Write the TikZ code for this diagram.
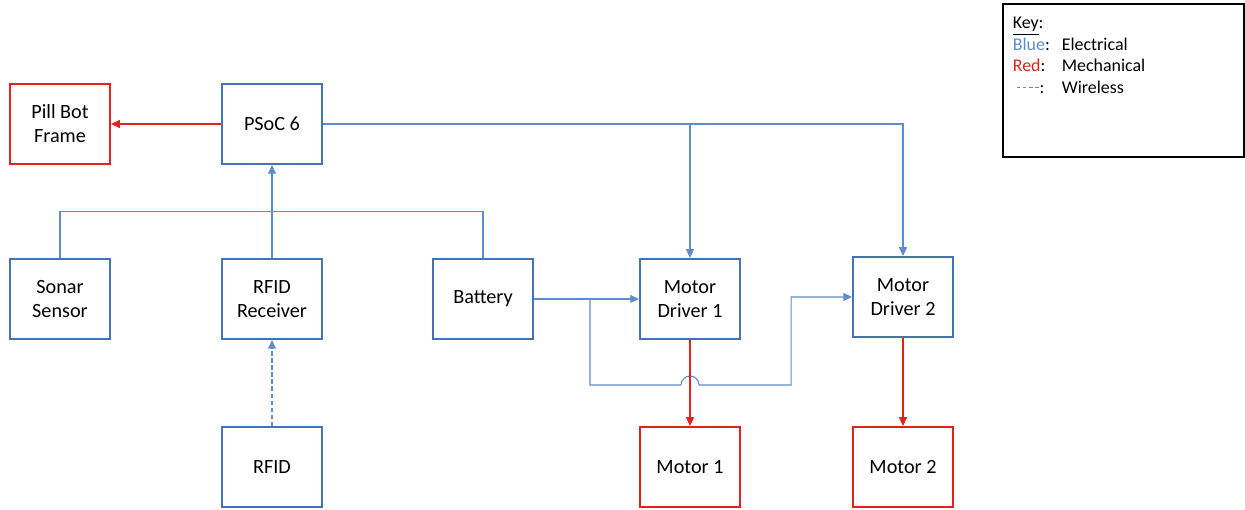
\documentclass[tikz,border=0pt]{standalone}
\usepackage{fontspec}
\setmainfont{Carlito}
\usepackage{xcolor}
\usepackage{tikz}
\usetikzlibrary{positioning, arrows.meta, calc}

\definecolor{elec}{RGB}{70,114,180}
\definecolor{wirec}{RGB}{95,140,205}
\definecolor{mech}{RGB}{225,35,30}

\begin{document}
\begin{tikzpicture}[on grid, auto,
    block/.style={draw=elec, line width=1.1pt, minimum width=2cm, minimum height=1.6cm,
        align=center, font=\fontsize{11.5}{13.6}\selectfont},
    mechblock/.style={block, draw=mech},
    wire/.style={color=wirec, line width=0.6pt, -{Triangle[length=5pt,width=4.5pt]}},
    plainwire/.style={color=wirec, line width=0.6pt},
    mechwire/.style={color=mech, line width=0.6pt, -{Triangle[length=5pt,width=4.5pt]}},
    keybox/.style={draw=black, line width=0.6pt, minimum width=4.82cm, minimum height=3.06cm}]
        \useasboundingbox (0,0) rectangle (24.9,-10.2);

        \node[mechblock] (frame) at (1.2,-2.48) {Pill Bot\\Frame};
        \node[block, right=4.24 of frame] (psoc) {PSoC 6};
        \node[block, below=3.5 of frame] (sonar) {Sonar\\Sensor};
        \node[block, right=4.24 of sonar] (receiver) {RFID\\Receiver};
        \node[block, right=4.22 of receiver] (battery) {Battery};
        \node[block, right=4.14 of battery] (driverA) {Motor\\Driver 1};
        \node[block, right=4.26 of driverA, yshift=0.04cm] (driverB) {Motor\\Driver 2};
        \node[block, below=3.36 of receiver] (rfid) {RFID};
        \node[mechblock, below=3.36 of driverA] (motorA) {Motor 1};
        \node[mechblock, below=3.36 of driverB, yshift=-0.04cm] (motorB) {Motor 2};

        % key
        \node[keybox] (key) at (22.47,-1.61) {};
        \node[anchor=north west, inner sep=0pt, font=\fontsize{10.2}{12.2}\selectfont]
            at ([shift={(0.2,-0.2)}]key.north west) {%
            \begin{tabular}{@{}p{0.98cm}@{}l@{}}
                \underline{Key}: & \\
                \textcolor{wirec}{Blue}: & Electrical \\
                \textcolor{mech}{Red}: & Mechanical \\
                \hspace{2pt}\tikz[baseline=-3pt]\draw[wirec, dashed, dash pattern=on 2pt off 1.5pt, line width=0.5pt] (0,0) -- (0.45,0);: & Wireless
            \end{tabular}};

        % helper points
        \coordinate (bus) at ([yshift=0.94cm]receiver.north);
        \coordinate (split) at ([xshift=0.07cm]$(battery.east)!0.5!(driverA.west)$);
        \coordinate (lowline) at (0,-7.7);
        \coordinate (riser) at ([xshift=-1.22cm]driverB.west);

        \path[mechwire] (psoc) edge (frame);
        \draw[plainwire] (sonar.north) |- (bus) -| (battery.north);
        \draw[wire] (receiver.north) -- (psoc.south);
        \draw[wire, dashed, dash pattern=on 2.5pt off 1.5pt] (rfid.north) -- (receiver.south);
        \draw[wire] (psoc.east) -| (driverA.north);
        \draw[wire] (psoc.east) -| (driverB.north);
        \draw[wire] (battery.east) -- (driverA.west);
        \draw[wire] (split) |- ([xshift=-0.18cm]driverA.south |- lowline)
            arc[start angle=180, end angle=0, radius=0.18cm] -| (riser) -- (driverB.west);
        \path[mechwire] (driverA) edge (motorA)
            (driverB) edge (motorB);
\end{tikzpicture}
\end{document}
